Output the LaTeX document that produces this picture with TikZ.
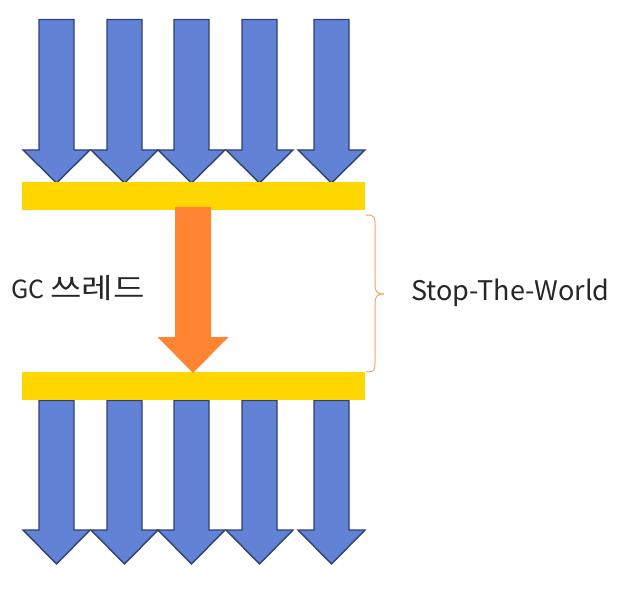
\documentclass[tikz,border=0pt]{standalone}
\usepackage{fontspec}
\setmainfont{Noto Sans CJK KR}
\begin{document}
\begin{tikzpicture}[x=1pt,y=-1pt,
  bluearrow/.style={fill=blueA,draw=blueE,line width=1.4pt,line join=miter},
  orangearrow/.style={fill=orangeA},
  bar/.style={fill=yellowA},
  bracestyle/.style={draw=braceC,line width=1pt},
  lbl/.style={text=black!85,inner sep=0pt}]
\definecolor{blueA}{HTML}{6282D6}
\definecolor{blueE}{HTML}{2F4170}
\definecolor{orangeA}{HTML}{FF8533}
\definecolor{yellowA}{HTML}{FFD700}
\definecolor{braceC}{HTML}{F5A468}
\useasboundingbox (0,0) rectangle (635,591);
% top arrows
\foreach \cx in {56.5,124.5,191.5,259.5,331.5}{
  \draw[bluearrow] (\cx-17.5,19.5) -- (\cx+17.5,19.5) -- (\cx+17.5,150) -- (\cx+33.5,150)
    -- (\cx,183) -- (\cx-33.5,150) -- (\cx-17.5,150) -- cycle;
}
% bottom arrows
\foreach \cx in {56.5,124.5,191.5,259.5,331.5}{
  \draw[bluearrow] (\cx-17.5,400.5) -- (\cx+17.5,400.5) -- (\cx+17.5,530) -- (\cx+33.5,530)
    -- (\cx,564) -- (\cx-33.5,530) -- (\cx-17.5,530) -- cycle;
}
% bars
\fill[bar] (22,182) rectangle (365,210);
\fill[bar] (22,372) rectangle (365,400);
% orange arrow
\fill[orangearrow] (175,207) -- (211,207) -- (211,337) -- (228.5,337) -- (193,373)
  -- (157.5,337) -- (175,337) -- cycle;
% brace
\draw[bracestyle] (366,215) .. controls (375,215) and (375,217) .. (375,225)
  -- (375,284) .. controls (375,292) and (377,294) .. (384,294)
  .. controls (377,294) and (375,296) .. (375,304)
  -- (375,362) .. controls (375,370) and (375,372) .. (366,372);
\node[lbl,anchor=base west] (gc) at (11,298) {\fontsize{25}{28}\selectfont GC\hspace{6pt}\scalebox{1.22}[1]{\fontsize{28}{32}\selectfont 쓰레드}};
\node[lbl,anchor=base west] (stw) at (411,300) {\fontsize{27}{32}\selectfont Stop-The-World};
\end{tikzpicture}
\end{document}
